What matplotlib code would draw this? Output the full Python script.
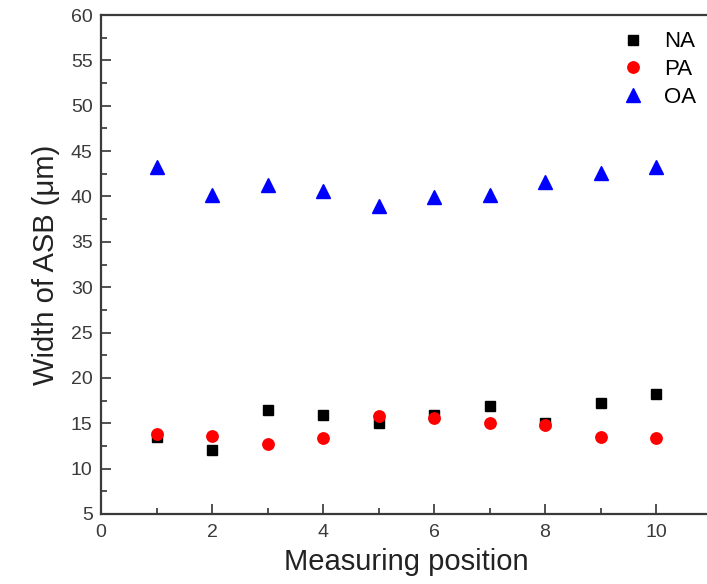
import numpy as np
import matplotlib.pyplot as plt
from matplotlib.ticker import MultipleLocator

plt.rcParams['font.family'] = ['Liberation Sans', 'DejaVu Sans']

position = [1, 2, 3, 4, 5, 6, 7, 8, 9, 10]
na = [13.5, 12.1, 16.5, 15.95, 15.0, 15.9, 16.9, 15.05, 17.25, 18.2]
pa = [13.8, 13.65, 12.7, 13.4, 15.85, 15.6, 15.05, 14.8, 13.5, 13.35]
oa = [43.3, 40.15, 41.3, 40.6, 39.0, 39.9, 40.2, 41.6, 42.6, 43.25]

fig = plt.figure(figsize=(7.07, 5.84), dpi=100)
ax = fig.add_axes([101/707, 70/584, 610.5/707, 499/584])

ax.plot(position, na, 's', color='black', markersize=7.7, label='NA')
ax.plot(position, pa, 'o', color='red', markersize=8.2, label='PA')
ax.plot(position, oa, '^', color='blue', markersize=9.5, label='OA')

ax.set_xlim(0, 11)
ax.set_ylim(5, 60)
ax.xaxis.set_major_locator(MultipleLocator(2))
ax.xaxis.set_minor_locator(MultipleLocator(1))
ax.yaxis.set_major_locator(MultipleLocator(5))
ax.yaxis.set_minor_locator(MultipleLocator(2.5))
ax.tick_params(which='both', direction='in', labelsize=14, labelcolor='#3a3a3a', width=1.2, color='#333333')
ax.tick_params(which='major', length=7)
ax.tick_params(which='minor', length=4)
ax.tick_params(axis='x', pad=7)
ax.tick_params(axis='y', pad=6)
for s in ax.spines.values():
    s.set_linewidth(1.6)
    s.set_color('#3a3a3a')

ax.set_xlabel('Measuring position', fontsize=21, color='#222222', labelpad=5)
ax.set_ylabel('Width of ASB (μm)', fontsize=21, color='#222222', labelpad=8)

ax.legend(loc='upper right', bbox_to_anchor=(0.99, 0.985), frameon=False,
          fontsize=16, handlelength=1.0, handletextpad=0.9, labelspacing=0.3,
          borderaxespad=0.0)

fig.savefig('out.png', dpi=100)
